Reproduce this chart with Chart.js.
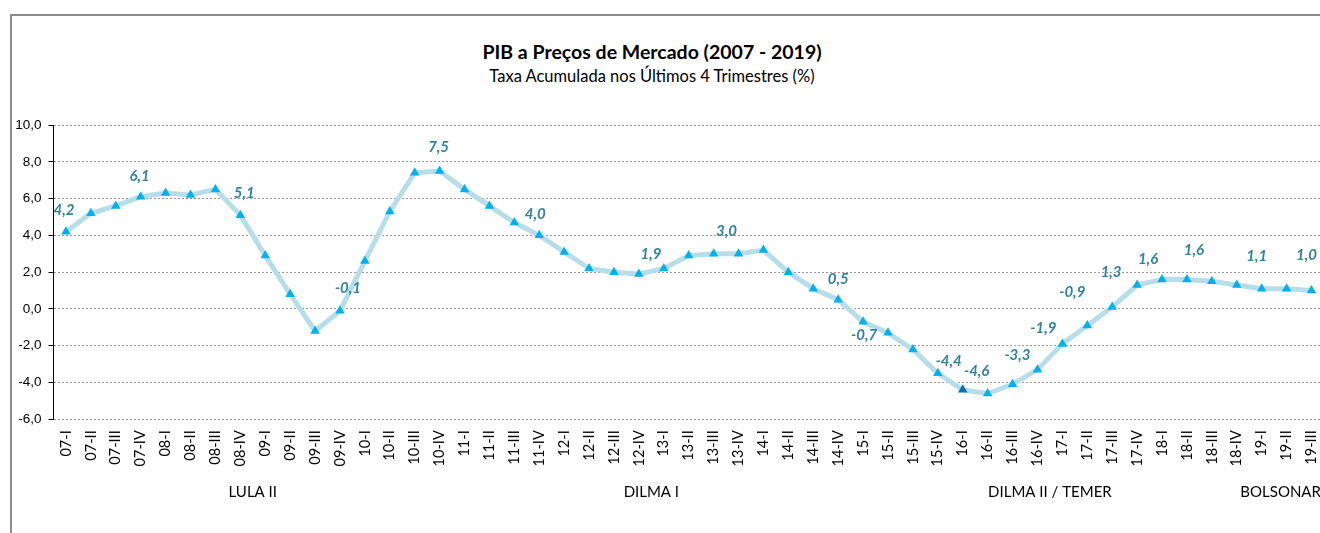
<!DOCTYPE html>
<html>
<head>
<meta charset="utf-8">
<script src="https://cdn.jsdelivr.net/npm/chart.js@4"></script>
<style>
  html, body { margin:0; padding:0; width:1320px; height:533px; overflow:hidden; background:#fff; }
  #moldura { position:absolute; left:10px; top:14px; width:1400px; height:600px;
             border-left:2px solid #8c8c8c; border-top:2px solid #8c8c8c; }
  .tit { position:absolute; left:0; width:1304px; text-align:center; font-family:Lato, sans-serif; color:#000; line-height:1.2; }
  #t1 { top:40px; font-size:19.5px; font-weight:bold; }
  #t2 { top:67px; font-size:16.5px; }
  #wrap { position:absolute; left:0; top:0; }
</style>
</head>
<body>
<div id="moldura"></div>
<div id="t1" class="tit">PIB a Preços de Mercado (2007 - 2019)</div>
<div id="t2" class="tit">Taxa Acumulada nos Últimos 4 Trimestres (%)</div>
<div id="wrap"><canvas id="grafico" width="1340" height="533"></canvas></div>
<script>
// trimestres
const trimestres = [
  '07-I','07-II','07-III','07-IV','08-I','08-II','08-III','08-IV',
  '09-I','09-II','09-III','09-IV','10-I','10-II','10-III','10-IV',
  '11-I','11-II','11-III','11-IV','12-I','12-II','12-III','12-IV',
  '13-I','13-II','13-III','13-IV','14-I','14-II','14-III','14-IV',
  '15-I','15-II','15-III','15-IV','16-I','16-II','16-III','16-IV',
  '17-I','17-II','17-III','17-IV','18-I','18-II','18-III','18-IV',
  '19-I','19-II','19-III'
];
// taxa acumulada 4 trimestres (%)
const taxa = [
  4.2, 5.2, 5.6, 6.1, 6.3, 6.2, 6.5, 5.1,
  2.9, 0.8, -1.2, -0.1, 2.6, 5.3, 7.4, 7.5,
  6.5, 5.6, 4.7, 4.0, 3.1, 2.2, 2.0, 1.9,
  2.2, 2.9, 3.0, 3.0, 3.2, 2.0, 1.1, 0.5,
  -0.7, -1.3, -2.2, -3.5, -4.4, -4.6, -4.1, -3.3,
  -1.9, -0.9, 0.1, 1.3, 1.6, 1.6, 1.5, 1.3,
  1.1, 1.1, 1.0
];
// trimestres com rotulo de valor
const rotulados = ['07-I','07-IV','08-IV','09-IV','10-IV','11-IV','12-IV','13-IV','14-IV',
  '15-I','16-I','16-II','16-IV','17-I','17-II','17-IV','18-I','18-II','19-I','19-III'];
// governos
const governos = ['LULA II', 'DILMA I', 'DILMA II / TEMER', 'BOLSONARO'];
const govInicio = ['07-I', '11-I', '15-I', '19-I'];
const govFim = ['10-IV', '14-IV', '18-IV', '19-III'];

const fmt = v => v.toFixed(1).replace('.', ',');

// value labels (bold italic) over the points
const rotulosPlugin = {
  id: 'rotulos',
  afterDatasetsDraw(chart, args, opts) {
    const ctx = chart.ctx;
    const meta = chart.getDatasetMeta(0);
    ctx.save();
    ctx.font = 'italic bold 15px Lato';
    ctx.fillStyle = '#31849B';
    ctx.textAlign = 'center';
    ctx.textBaseline = 'middle';
    rotulados.forEach(function(lab) {
      const i = trimestres.indexOf(lab);
      const p = meta.data[i];
      const n = opts.ajuste[lab] || [0, -22];
      ctx.fillText(fmt(taxa[i]), p.x + n[0], p.y + n[1]);
    });
    ctx.restore();
  }
};

// government names under the x labels
const governosPlugin = {
  id: 'governos',
  afterDraw(chart, args, opts) {
    const ctx = chart.ctx;
    const x = chart.scales.x;
    ctx.save();
    ctx.font = '15px Lato';
    ctx.fillStyle = '#000';
    ctx.textAlign = 'center';
    ctx.textBaseline = 'middle';
    governos.forEach(function(g, k) {
      const a = x.getPixelForValue(trimestres.indexOf(govInicio[k]));
      const b = x.getPixelForValue(trimestres.indexOf(govFim[k]));
      ctx.fillText(g, (a + b) / 2, opts.y);
    });
    ctx.restore();
  }
};

const cores = trimestres.map(t => t === '16-I' ? '#0070C0' : '#00B0F0');

new Chart(document.getElementById('grafico'), {
  type: 'line',
  data: {
    labels: trimestres,
    datasets: [{
      data: taxa,
      borderColor: '#B7DEE8',
      borderWidth: 5,
      tension: 0,
      pointStyle: 'triangle',
      pointRadius: 5.5,
      pointBackgroundColor: cores,
      pointBorderColor: cores,
      pointBorderWidth: 0
    }]
  },
  options: {
    responsive: false,
    animation: false,
    layout: { padding: { left: 0, top: 125, right: 12.5, bottom: 0 } },
    scales: {
      y: {
        min: -6,
        max: 10,
        afterFit: function(s) { s.width = 53.5; },
        ticks: {
          stepSize: 2,
          padding: 7,
          color: '#000',
          font: { family: 'Liberation Sans', size: 13.5 },
          callback: v => fmt(v)
        },
        grid: { color: '#9a9a9a', tickColor: '#000', tickLength: 5, lineWidth: 1 },
        border: { display: true, color: '#000', width: 1, dash: [2, 2] }
      },
      x: {
        offset: true,
        afterFit: function(s) { s.height = 113.7; },
        grid: { display: false, drawTicks: false },
        border: { display: false },
        ticks: {
          autoSkip: false,
          maxRotation: 90,
          minRotation: 90,
          padding: 11,
          color: '#000',
          font: { family: 'Lato', size: 14.5 }
        }
      }
    },
    plugins: {
      legend: { display: false },
      tooltip: { enabled: false },
      rotulos: {
        ajuste: {
          '07-I': [-2, -22], '07-IV': [-1, -21], '08-IV': [4, -22], '09-IV': [8, -23],
          '10-IV': [-1, -24], '11-IV': [-4, -21], '12-IV': [12, -20], '13-IV': [-12, -23],
          '14-IV': [0, -21], '15-I': [1, 13], '16-I': [-14, -29], '16-II': [-11, -22],
          '16-IV': [-20, -14], '17-I': [-19, -16], '17-II': [-15, -33], '17-IV': [-26, -13],
          '18-I': [-14, -20], '18-II': [7, -29], '19-I': [-5, -33], '19-III': [-5, -35]
        }
      },
      governos: { y: 492 }
    }
  },
  plugins: [rotulosPlugin, governosPlugin]
});
</script>
</body>
</html>
